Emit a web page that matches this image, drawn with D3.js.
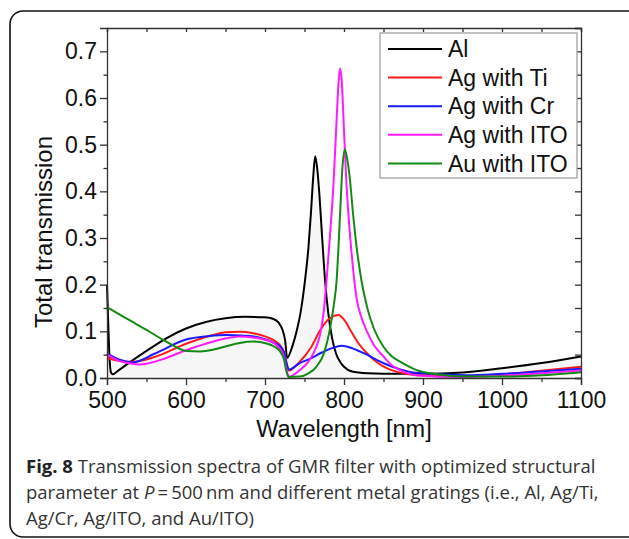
<!DOCTYPE html>
<meta charset="utf-8">
<style>
body {
  margin: 0;
  background: #fff;
  font-family: "Liberation Sans", Arial, sans-serif;
}
.axis path, .axis line {
  stroke: #333;
  stroke-width: 1.3px;
}
.tick text {
  font-size: 23px;
  fill: #111;
}
.curve {
  fill: none;
  stroke-width: 2px;
}
.legend text {
  font-size: 23px;
  fill: #111;
}
.caption {
  font-family: "Open Sans", sans-serif;
  font-size: 18.5px;
  fill: #333;
}
</style>
<body>
<script src="https://cdn.jsdelivr.net/npm/d3@7"></script>
<script>
// wavelength [nm], total transmission
var alData = [[500,0.20],[501.5,0.12],[503,0.05],[505,0.012],[507,0.008],[515,0.017],[530,0.035],[550,0.058],[575,0.085],[600,0.106],[625,0.12],[650,0.128],[675,0.131],[700,0.13],[710,0.127],[717,0.119],[722,0.104],[725.5,0.08],[728,0.043],[735,0.07],[740,0.1],[745,0.14],[750,0.2],[755,0.28],[758,0.35],[761,0.43],[763.5,0.475],[766,0.45],[769,0.39],[772,0.31],[776,0.21],[780,0.14],[785,0.085],[790,0.052],[795,0.035],[800,0.024],[810,0.014],[830,0.01],[850,0.009],[900,0.009],[950,0.012],[1000,0.021],[1050,0.032],[1100,0.046]];
var agTiData = [[500,0.043],[515,0.037],[533,0.035],[560,0.045],[601,0.074],[630,0.09],[651,0.098],[668,0.099],[685,0.096],[702,0.088],[712,0.08],[719,0.07],[724,0.055],[728,0.024],[730,0.016],[744,0.035],[758,0.065],[770,0.103],[782,0.128],[793,0.135],[800,0.125],[808,0.103],[818,0.075],[829,0.053],[840,0.036],[854,0.021],[870,0.012],[892,0.006],[955,0.004],[1000,0.008],[1040,0.014],[1100,0.024]];
var agCrData = [[500,0.053],[515,0.04],[533,0.034],[560,0.052],[601,0.083],[630,0.09],[651,0.092],[670,0.091],[686,0.089],[702,0.082],[712,0.075],[719,0.068],[724,0.055],[728,0.028],[730,0.018],[744,0.032],[758,0.042],[770,0.053],[785,0.064],[797,0.069],[810,0.064],[820,0.057],[829,0.05],[840,0.04],[854,0.029],[870,0.019],[892,0.011],[955,0.006],[1000,0.009],[1050,0.014],[1100,0.02]];
var agItoData = [[500,0.05],[515,0.037],[530,0.031],[542,0.029],[570,0.04],[601,0.06],[630,0.076],[651,0.085],[668,0.089],[685,0.087],[702,0.081],[712,0.074],[719,0.062],[724,0.045],[727,0.02],[730,0.003],[744,0.017],[755,0.035],[765,0.067],[770,0.095],[774,0.138],[778,0.21],[782,0.3],[786.5,0.41],[790,0.53],[793,0.63],[795,0.663],[797,0.64],[800,0.53],[803,0.42],[806.5,0.33],[810,0.26],[816,0.17],[822,0.13],[829,0.1],[838,0.07],[850,0.046],[860,0.028],[871,0.017],[892,0.006],[950,0.002],[1000,0.005],[1050,0.01],[1100,0.016]];
var auItoData = [[500,0.152],[525,0.127],[550,0.103],[575,0.078],[601,0.058],[618,0.057],[635,0.061],[651,0.068],[668,0.075],[685,0.078],[702,0.074],[712,0.067],[719,0.057],[724,0.04],[727,0.015],[730,0.002],[744,0.003],[755,0.01],[765,0.024],[775,0.055],[782,0.103],[787,0.155],[790.7,0.21],[793,0.28],[795,0.35],[798,0.45],[801,0.49],[804,0.47],[807.6,0.424],[811,0.36],[816,0.28],[822,0.21],[829,0.153],[838,0.105],[850,0.067],[860,0.047],[871,0.035],[892,0.017],[913,0.009],[955,0.003],[1000,0.003],[1040,0.005],[1100,0.0125]];

var seriesNames = ["Al", "Ag with Ti", "Ag with Cr", "Ag with ITO", "Au with ITO"];
var seriesColors = ["#000000", "#ff1a1a", "#1a1aff", "#ff1aff", "#138a13"];
var seriesData = [alData, agTiData, agCrData, agItoData, auItoData];

var xTicks = [500, 600, 700, 800, 900, 1000, 1100];
var yTicks = [0.0, 0.1, 0.2, 0.3, 0.4, 0.5, 0.6, 0.7];

var width = 629, height = 539;
var m = {left: 107, right: 581, top: 28, bottom: 378};

var svg = d3.select("body").append("svg")
    .attr("width", width)
    .attr("height", height);

// rounded frame around the figure
svg.append("rect")
    .attr("x", 10).attr("y", 11)
    .attr("width", 634).attr("height", 526)
    .attr("rx", 13)
    .attr("fill", "none")
    .attr("stroke", "#111")
    .attr("stroke-width", 1.6);

var x = d3.scaleLinear().domain([500, 1100]).range([m.left, m.right]);
var y = d3.scaleLinear().domain([0, 0.75]).range([m.bottom, m.top]);

var line = d3.line()
    .x(function(d) { return x(d[0]); })
    .y(function(d) { return y(d[1]); })
    .curve(d3.curveMonotoneX);

var area = d3.area()
    .x(function(d) { return x(d[0]); })
    .y0(y(0))
    .y1(function(d) { return y(d[1]); })
    .curve(d3.curveMonotoneX);

// faint shading under the Al spectrum
svg.append("path")
    .attr("d", area(alData))
    .attr("fill", "#f7f7f7");

seriesData.forEach(function(s, i) {
  svg.append("path")
      .attr("class", "curve")
      .attr("d", line(s))
      .attr("stroke", seriesColors[i]);
});

// axes
var xAxis = svg.append("g")
    .attr("class", "axis")
    .attr("transform", "translate(0," + m.bottom + ")")
    .call(d3.axisBottom(x).tickValues(xTicks).tickSize(7).tickPadding(5).tickFormat(d3.format("d")));
xAxis.selectAll(".tick text").attr("dy", "0.78em");

svg.append("g")
    .attr("class", "axis")
    .attr("transform", "translate(0," + m.bottom + ")")
    .call(d3.axisBottom(x).tickValues(d3.range(550, 1100, 100)).tickSize(4).tickFormat(""))
    .select(".domain").remove();

svg.append("g")
    .attr("class", "axis")
    .attr("transform", "translate(" + m.left + ",0)")
    .call(d3.axisLeft(y).tickValues(yTicks).tickSize(7).tickPadding(3).tickFormat(d3.format(".1f")));

svg.append("g")
    .attr("class", "axis")
    .attr("transform", "translate(" + m.left + ",0)")
    .call(d3.axisLeft(y).tickValues([0.05, 0.15, 0.25, 0.35, 0.45, 0.55, 0.65]).tickSize(3.5).tickFormat(""))
    .select(".domain").remove();

svg.append("g")
    .attr("class", "axis")
    .attr("transform", "translate(0," + m.top + ")")
    .call(d3.axisTop(x).tickValues(d3.range(500, 1101, 50)).tickSize(-4).tickFormat(""));

svg.append("g")
    .attr("class", "axis")
    .attr("transform", "translate(" + m.right + ",0)")
    .call(d3.axisRight(y).tickValues(d3.range(0, 0.751, 0.05)).tickSize(-6).tickFormat(""));

svg.selectAll(".axis .tick line").attr("stroke", "#333");

// axis titles
svg.append("text")
    .attr("x", (m.left + m.right) / 2)
    .attr("y", 437)
    .attr("text-anchor", "middle")
    .style("font-size", "23.5px")
    .style("fill", "#111")
    .text("Wavelength [nm]");

svg.append("text")
    .attr("transform", "translate(52,232) rotate(-90)")
    .attr("text-anchor", "middle")
    .style("font-size", "24px")
    .style("fill", "#111")
    .text("Total transmission");

// legend
var legend = svg.append("g").attr("class", "legend");
legend.append("rect")
    .attr("x", 380).attr("y", 33)
    .attr("width", 197).attr("height", 145)
    .attr("fill", "#fff")
    .attr("stroke", "#999")
    .attr("stroke-width", 1.2);

var item = legend.selectAll(".item")
    .data(seriesNames)
    .enter().append("g")
    .attr("transform", function(d, i) { return "translate(0," + (49 + i * 28.6) + ")"; });

item.append("line")
    .attr("x1", 388).attr("x2", 442)
    .attr("stroke", function(d, i) { return seriesColors[i]; })
    .attr("stroke-width", 2);

item.append("text")
    .attr("x", 448)
    .attr("dy", "0.36em")
    .text(function(d) { return d; });

// caption
var cap = svg.append("g").attr("class", "caption");
var l1 = cap.append("text").attr("x", 26).attr("y", 473);
l1.append("tspan").style("font-weight", "bold").style("fill", "#222").text("Fig. 8");
l1.append("tspan").text(" Transmission spectra of GMR filter with optimized structural");
var l2 = cap.append("text").attr("x", 26).attr("y", 499);
l2.append("tspan").text("parameter at ");
l2.append("tspan").style("font-style", "italic").text("P");
l2.append("tspan").text("\u2009=\u2009500\u2009nm and different metal gratings (i.e., Al, Ag/Ti,");
cap.append("text").attr("x", 26).attr("y", 525)
    .text("Ag/Cr, Ag/ITO, and Au/ITO)");
</script>
</body>
